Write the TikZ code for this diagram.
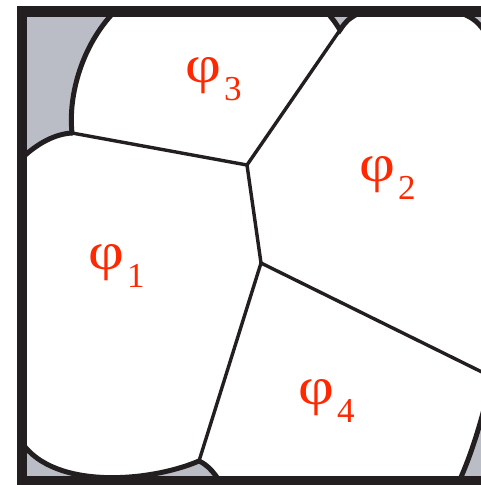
\documentclass[tikz,border=0pt]{standalone}
\usepackage{fontspec}
\setmainfont{Liberation Serif}
\definecolor{bggray}{RGB}{186,189,197}
\definecolor{ink}{RGB}{35,31,32}
\definecolor{lab}{RGB}{255,40,0}
\newcommand\grainlabel[1]{\scalebox{1.22}[1.04]{φ}\kern3pt\raisebox{-18pt}{\fontsize{35}{35}\selectfont #1}}
\begin{document}
\begin{tikzpicture}[x=1pt,y=-1pt,
  inner/.style={draw=ink,line width=3.4pt,line join=round},
  outer/.style={draw=ink,line width=5pt,line cap=round},
  frame/.style={draw=ink,line width=10.5pt},
  glabel/.style={text=lab,anchor=base west,inner sep=0pt,font=\fontsize{51}{51}\selectfont}]
\useasboundingbox (0,0) rectangle (481,485);
\coordinate (A) at (72,133);
\coordinate (B) at (247,165);
\coordinate (C) at (340,30);
\coordinate (D) at (261,263);
\coordinate (E) at (199,461);
\coordinate (R) at (492,377);
\begin{scope}
\clip (0,0) rectangle (481,485);
\fill[bggray] (22,11) rectangle (500,490);
% grains
\fill[white] (A) -- (B) -- (C) .. controls (335,22) .. (326,11) -- (115,11) .. controls (82,45) and (68,95) .. (A) -- cycle;
\fill[white] (C) .. controls (347,20) .. (362,11) -- (445,11) .. controls (470,11) and (486,25) .. (492,50) -- (R) -- (D) -- (B) -- cycle;
\fill[white] (A) -- (B) -- (D) -- (E) .. controls (150,482) and (55,490) .. (22,443) -- (22,158) .. controls (38,143) and (55,134) .. (A) -- cycle;
\fill[white] (D) -- (R) -- (490,385) .. controls (482,420) and (470,460) .. (455,490) -- (225,490) .. controls (216,474) and (208,465) .. (E) -- cycle;
% outer boundaries
\draw[outer] (115,11) .. controls (82,45) and (68,95) .. (A);
\draw[outer] (22,158) .. controls (38,143) and (55,134) .. (A);
\draw[outer] (326,11) .. controls (335,22) .. (C) .. controls (347,20) .. (362,11);
\draw[outer] (445,11) .. controls (470,11) and (486,25) .. (492,50);
\draw[outer] (E) .. controls (150,482) and (55,490) .. (22,443);
\draw[outer] (E) .. controls (208,465) and (216,474) .. (225,490);
\draw[outer] (490,385) .. controls (482,420) and (470,460) .. (455,490);
% internal boundaries
\draw[inner] (A) -- (B) -- (C);
\draw[inner] (B) -- (D) -- (E);
\draw[inner] (D) -- (R);
% frame
\draw[frame] (22,11.5) rectangle (492,481);
\end{scope}
\node[glabel] (p3) at (185,82) {\grainlabel{3}};
\node[glabel] (p2) at (359,181) {\grainlabel{2}};
\node[glabel] (p1) at (88,269) {\grainlabel{1}};
\node[glabel] (p4) at (298,404) {\grainlabel{4}};
\end{tikzpicture}
\end{document}
